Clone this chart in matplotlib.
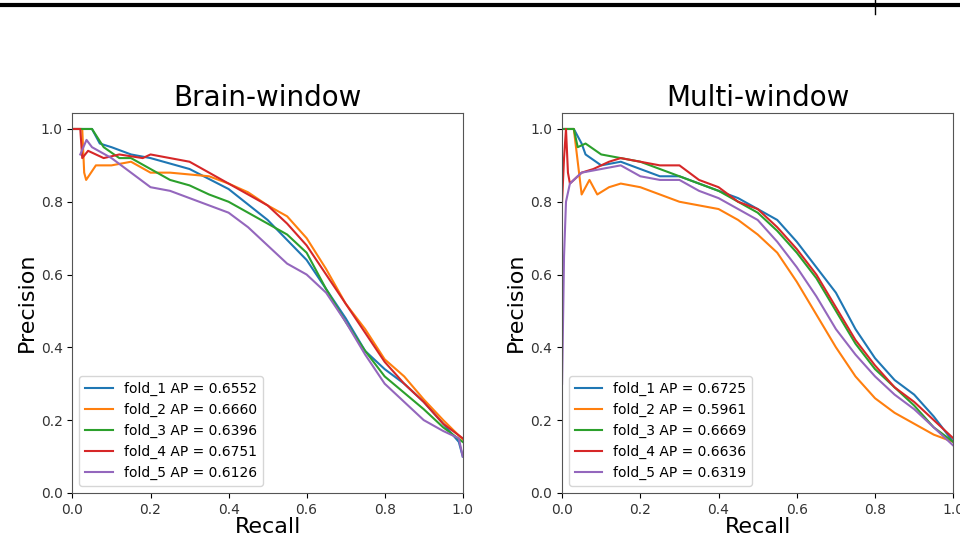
import matplotlib
matplotlib.use("Agg")
from matplotlib import pyplot as plt
from matplotlib.lines import Line2D

# ---- Brain-window ----
brain_r1 = [0.0, 0.05, 0.07, 0.10, 0.15, 0.20, 0.30, 0.40, 0.50, 0.60, 0.65, 0.70, 0.75, 0.80, 0.85, 0.90, 0.95, 0.99, 1.0]
brain_p1 = [1.0, 1.0, 0.96, 0.95, 0.93, 0.92, 0.89, 0.835, 0.75, 0.64, 0.56, 0.48, 0.39, 0.34, 0.30, 0.25, 0.19, 0.14, 0.10]
brain_r2 = [0.0, 0.025, 0.03, 0.035, 0.06, 0.10, 0.15, 0.20, 0.25, 0.35, 0.40, 0.45, 0.50, 0.55, 0.60, 0.65, 0.70, 0.75, 0.80, 0.85, 0.90, 0.95, 1.0]
brain_p2 = [1.0, 1.0, 0.88, 0.86, 0.90, 0.90, 0.91, 0.88, 0.88, 0.87, 0.85, 0.826, 0.79, 0.76, 0.70, 0.615, 0.52, 0.45, 0.367, 0.32, 0.257, 0.20, 0.147]
brain_r3 = [0.0, 0.05, 0.08, 0.12, 0.15, 0.20, 0.25, 0.30, 0.35, 0.40, 0.45, 0.50, 0.55, 0.60, 0.65, 0.70, 0.75, 0.80, 0.85, 0.90, 0.95, 1.0]
brain_p3 = [1.0, 1.0, 0.95, 0.92, 0.92, 0.89, 0.86, 0.845, 0.82, 0.80, 0.77, 0.74, 0.71, 0.66, 0.56, 0.47, 0.39, 0.32, 0.275, 0.23, 0.18, 0.14]
brain_r4 = [0.0, 0.02, 0.025, 0.04, 0.08, 0.12, 0.18, 0.20, 0.25, 0.30, 0.35, 0.40, 0.45, 0.50, 0.55, 0.60, 0.65, 0.70, 0.75, 0.80, 0.85, 0.90, 0.95, 1.0]
brain_p4 = [1.0, 1.0, 0.92, 0.94, 0.92, 0.93, 0.92, 0.93, 0.92, 0.91, 0.88, 0.85, 0.82, 0.79, 0.74, 0.68, 0.60, 0.52, 0.44, 0.36, 0.30, 0.25, 0.19, 0.15]
brain_r5 = [0.02, 0.036, 0.05, 0.10, 0.15, 0.20, 0.25, 0.30, 0.35, 0.40, 0.45, 0.50, 0.55, 0.60, 0.65, 0.70, 0.75, 0.80, 0.85, 0.90, 0.95, 0.99, 1.0]
brain_p5 = [0.93, 0.97, 0.95, 0.92, 0.88, 0.84, 0.83, 0.81, 0.79, 0.77, 0.73, 0.68, 0.63, 0.60, 0.55, 0.47, 0.38, 0.30, 0.25, 0.20, 0.17, 0.15, 0.10]
brain_ap = ["0.6552", "0.6660", "0.6396", "0.6751", "0.6126"]

# ---- Multi-window ----
multi_r1 = [0.0, 0.03, 0.05, 0.06, 0.10, 0.15, 0.20, 0.25, 0.30, 0.35, 0.40, 0.45, 0.50, 0.55, 0.60, 0.65, 0.70, 0.75, 0.80, 0.85, 0.90, 0.95, 1.0]
multi_p1 = [1.0, 1.0, 0.96, 0.93, 0.90, 0.91, 0.89, 0.87, 0.87, 0.85, 0.83, 0.81, 0.78, 0.75, 0.69, 0.62, 0.55, 0.45, 0.37, 0.31, 0.27, 0.21, 0.14]
multi_r2 = [0.0, 0.03, 0.05, 0.07, 0.09, 0.12, 0.15, 0.20, 0.25, 0.30, 0.35, 0.40, 0.45, 0.50, 0.55, 0.60, 0.65, 0.70, 0.75, 0.80, 0.85, 0.90, 0.95, 1.0]
multi_p2 = [1.0, 1.0, 0.82, 0.86, 0.82, 0.84, 0.85, 0.84, 0.82, 0.80, 0.79, 0.78, 0.75, 0.71, 0.66, 0.58, 0.49, 0.40, 0.32, 0.26, 0.22, 0.19, 0.16, 0.14]
multi_r3 = [0.0, 0.03, 0.04, 0.06, 0.10, 0.15, 0.20, 0.25, 0.30, 0.35, 0.40, 0.45, 0.50, 0.55, 0.60, 0.65, 0.70, 0.75, 0.80, 0.85, 0.90, 0.95, 1.0]
multi_p3 = [1.0, 1.0, 0.95, 0.96, 0.93, 0.92, 0.91, 0.89, 0.87, 0.85, 0.83, 0.80, 0.77, 0.72, 0.66, 0.59, 0.50, 0.41, 0.34, 0.29, 0.24, 0.18, 0.14]
multi_r4 = [0.0, 0.005, 0.01, 0.015, 0.02, 0.05, 0.08, 0.12, 0.15, 0.20, 0.25, 0.30, 0.35, 0.40, 0.45, 0.50, 0.55, 0.60, 0.65, 0.70, 0.75, 0.80, 0.85, 0.90, 0.95, 1.0]
multi_p4 = [0.80, 0.92, 1.0, 0.88, 0.85, 0.88, 0.89, 0.91, 0.92, 0.91, 0.90, 0.90, 0.86, 0.84, 0.80, 0.78, 0.73, 0.67, 0.60, 0.51, 0.42, 0.35, 0.29, 0.25, 0.20, 0.15]
multi_r5 = [0.0, 0.005, 0.01, 0.02, 0.05, 0.10, 0.15, 0.20, 0.25, 0.30, 0.35, 0.40, 0.45, 0.50, 0.55, 0.60, 0.65, 0.70, 0.75, 0.80, 0.85, 0.90, 0.95, 1.0]
multi_p5 = [0.30, 0.65, 0.80, 0.85, 0.88, 0.89, 0.90, 0.87, 0.86, 0.86, 0.83, 0.81, 0.78, 0.75, 0.69, 0.62, 0.54, 0.45, 0.38, 0.32, 0.27, 0.23, 0.18, 0.13]
multi_ap = ["0.6725", "0.5961", "0.6669", "0.6636", "0.6319"]

brain = [(brain_r1, brain_p1), (brain_r2, brain_p2), (brain_r3, brain_p3), (brain_r4, brain_p4), (brain_r5, brain_p5)]
multi = [(multi_r1, multi_p1), (multi_r2, multi_p2), (multi_r3, multi_p3), (multi_r4, multi_p4), (multi_r5, multi_p5)]

fig = plt.figure(figsize=(9.6, 5.44), dpi=100)
ax1 = fig.add_axes([0.0755, 0.094, 0.4065, 0.699])
ax2 = fig.add_axes([0.5855, 0.094, 0.4075, 0.699])

for ax, curves, aps, title in [(ax1, brain, brain_ap, "Brain-window"), (ax2, multi, multi_ap, "Multi-window")]:
  for i, (r, p) in enumerate(curves):
    ax.plot(r, p, color="C%d" % i, lw=1.5, label="fold_%d AP = %s" % (i + 1, aps[i]))
  ax.set_xlim(0.0, 1.0)
  ax.set_ylim(0.0, 1.045)
  ax.set_xticks([0.0, 0.2, 0.4, 0.6, 0.8, 1.0])
  ax.set_yticks([0.0, 0.2, 0.4, 0.6, 0.8, 1.0])
  ax.tick_params(labelsize=10, labelcolor="#333333")
  for s in ax.spines.values():
    s.set_color("#555555")
  ax.set_title(title, fontsize=20, pad=5)
  ax.set_xlabel("Recall", fontsize=16, labelpad=0)
  ax.set_ylabel("Precision", fontsize=16, labelpad=3)
  ax.legend(loc="lower left", fontsize=10)

# table border from the document page
fig.add_artist(Line2D([0, 1], [0.991, 0.991], color="black", lw=3, transform=fig.transFigure))
fig.add_artist(Line2D([0.9115, 0.9115], [0.975, 1.0], color="black", lw=1, transform=fig.transFigure))

fig.savefig("out.png", dpi=100)
